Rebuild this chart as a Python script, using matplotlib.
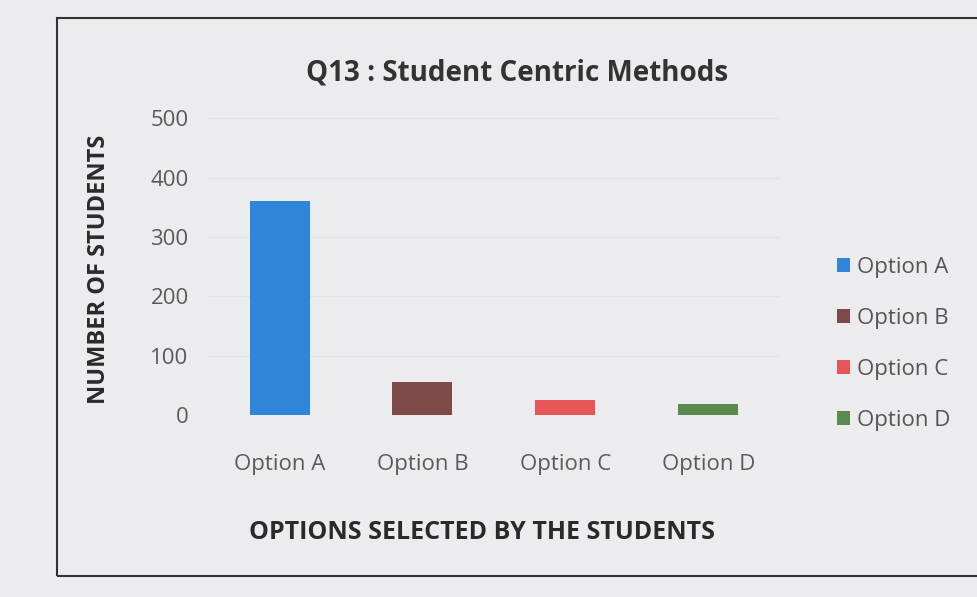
import matplotlib
matplotlib.use("Agg")
import matplotlib.pyplot as plt
from matplotlib.patches import Rectangle

# data
options = ["Option A", "Option B", "Option C", "Option D"]
students = [360, 55, 25, 18]
bar_colors = ["#2f86d8", "#7d4a47", "#e85558", "#5b8a4e"]
y_ticks = [0, 100, 200, 300, 400, 500]

plt.rcParams["font.family"] = ["Open Sans", "DejaVu Sans"]

fig = plt.figure(figsize=(9.77, 5.97), dpi=100)
fig.patch.set_facecolor("#ececee")

# frame of the printed chart
fig.patches.append(Rectangle((0.058, 0.035), 0.95, 0.935, transform=fig.transFigure,
                             fill=False, edgecolor="#333333", linewidth=1.5))

ax = fig.add_axes([0.213, 0.305, 0.585, 0.497])
ax.set_facecolor("none")

bars = ax.bar(range(len(options)), students, width=0.42, color=bar_colors)
for b, name in zip(bars, options):
    b.set_label(name)

ax.set_xlim(-0.5, len(options) - 0.5)
ax.set_ylim(0, 500)
ax.set_yticks(y_ticks)
ax.set_xticks(range(len(options)))
ax.set_xticklabels(options)
ax.yaxis.grid(True, color="#e2e2e4", linewidth=0.8)
ax.set_axisbelow(True)
ax.tick_params(length=0, labelsize=16, colors="#5a5a5a")
ax.tick_params(axis="y", pad=14)
ax.tick_params(axis="x", pad=28)
for s in ax.spines.values():
    s.set_visible(False)

ax.text(0.54, 1.105, "Q13 : Student Centric Methods", transform=ax.transAxes,
        ha="center", va="bottom", fontsize=20, fontweight="bold", color="#333333")
ax.set_xlabel("OPTIONS SELECTED BY THE STUDENTS", fontsize=18, fontweight="bold",
              color="#2a2a2a")
ax.xaxis.set_label_coords(0.48, -0.355)
ax.set_ylabel("NUMBER OF STUDENTS", fontsize=17, fontweight="bold",
              color="#2a2a2a")
ax.yaxis.set_label_coords(-0.17, 0.49)

ax.legend(loc="center left", bbox_to_anchor=(1.065, 0.24), frameon=False,
          fontsize=16, labelcolor="#555555", handlelength=0.6, handleheight=0.6,
          handletextpad=0.3, labelspacing=1.35)

fig.savefig("out.png", dpi=100, facecolor=fig.get_facecolor())
